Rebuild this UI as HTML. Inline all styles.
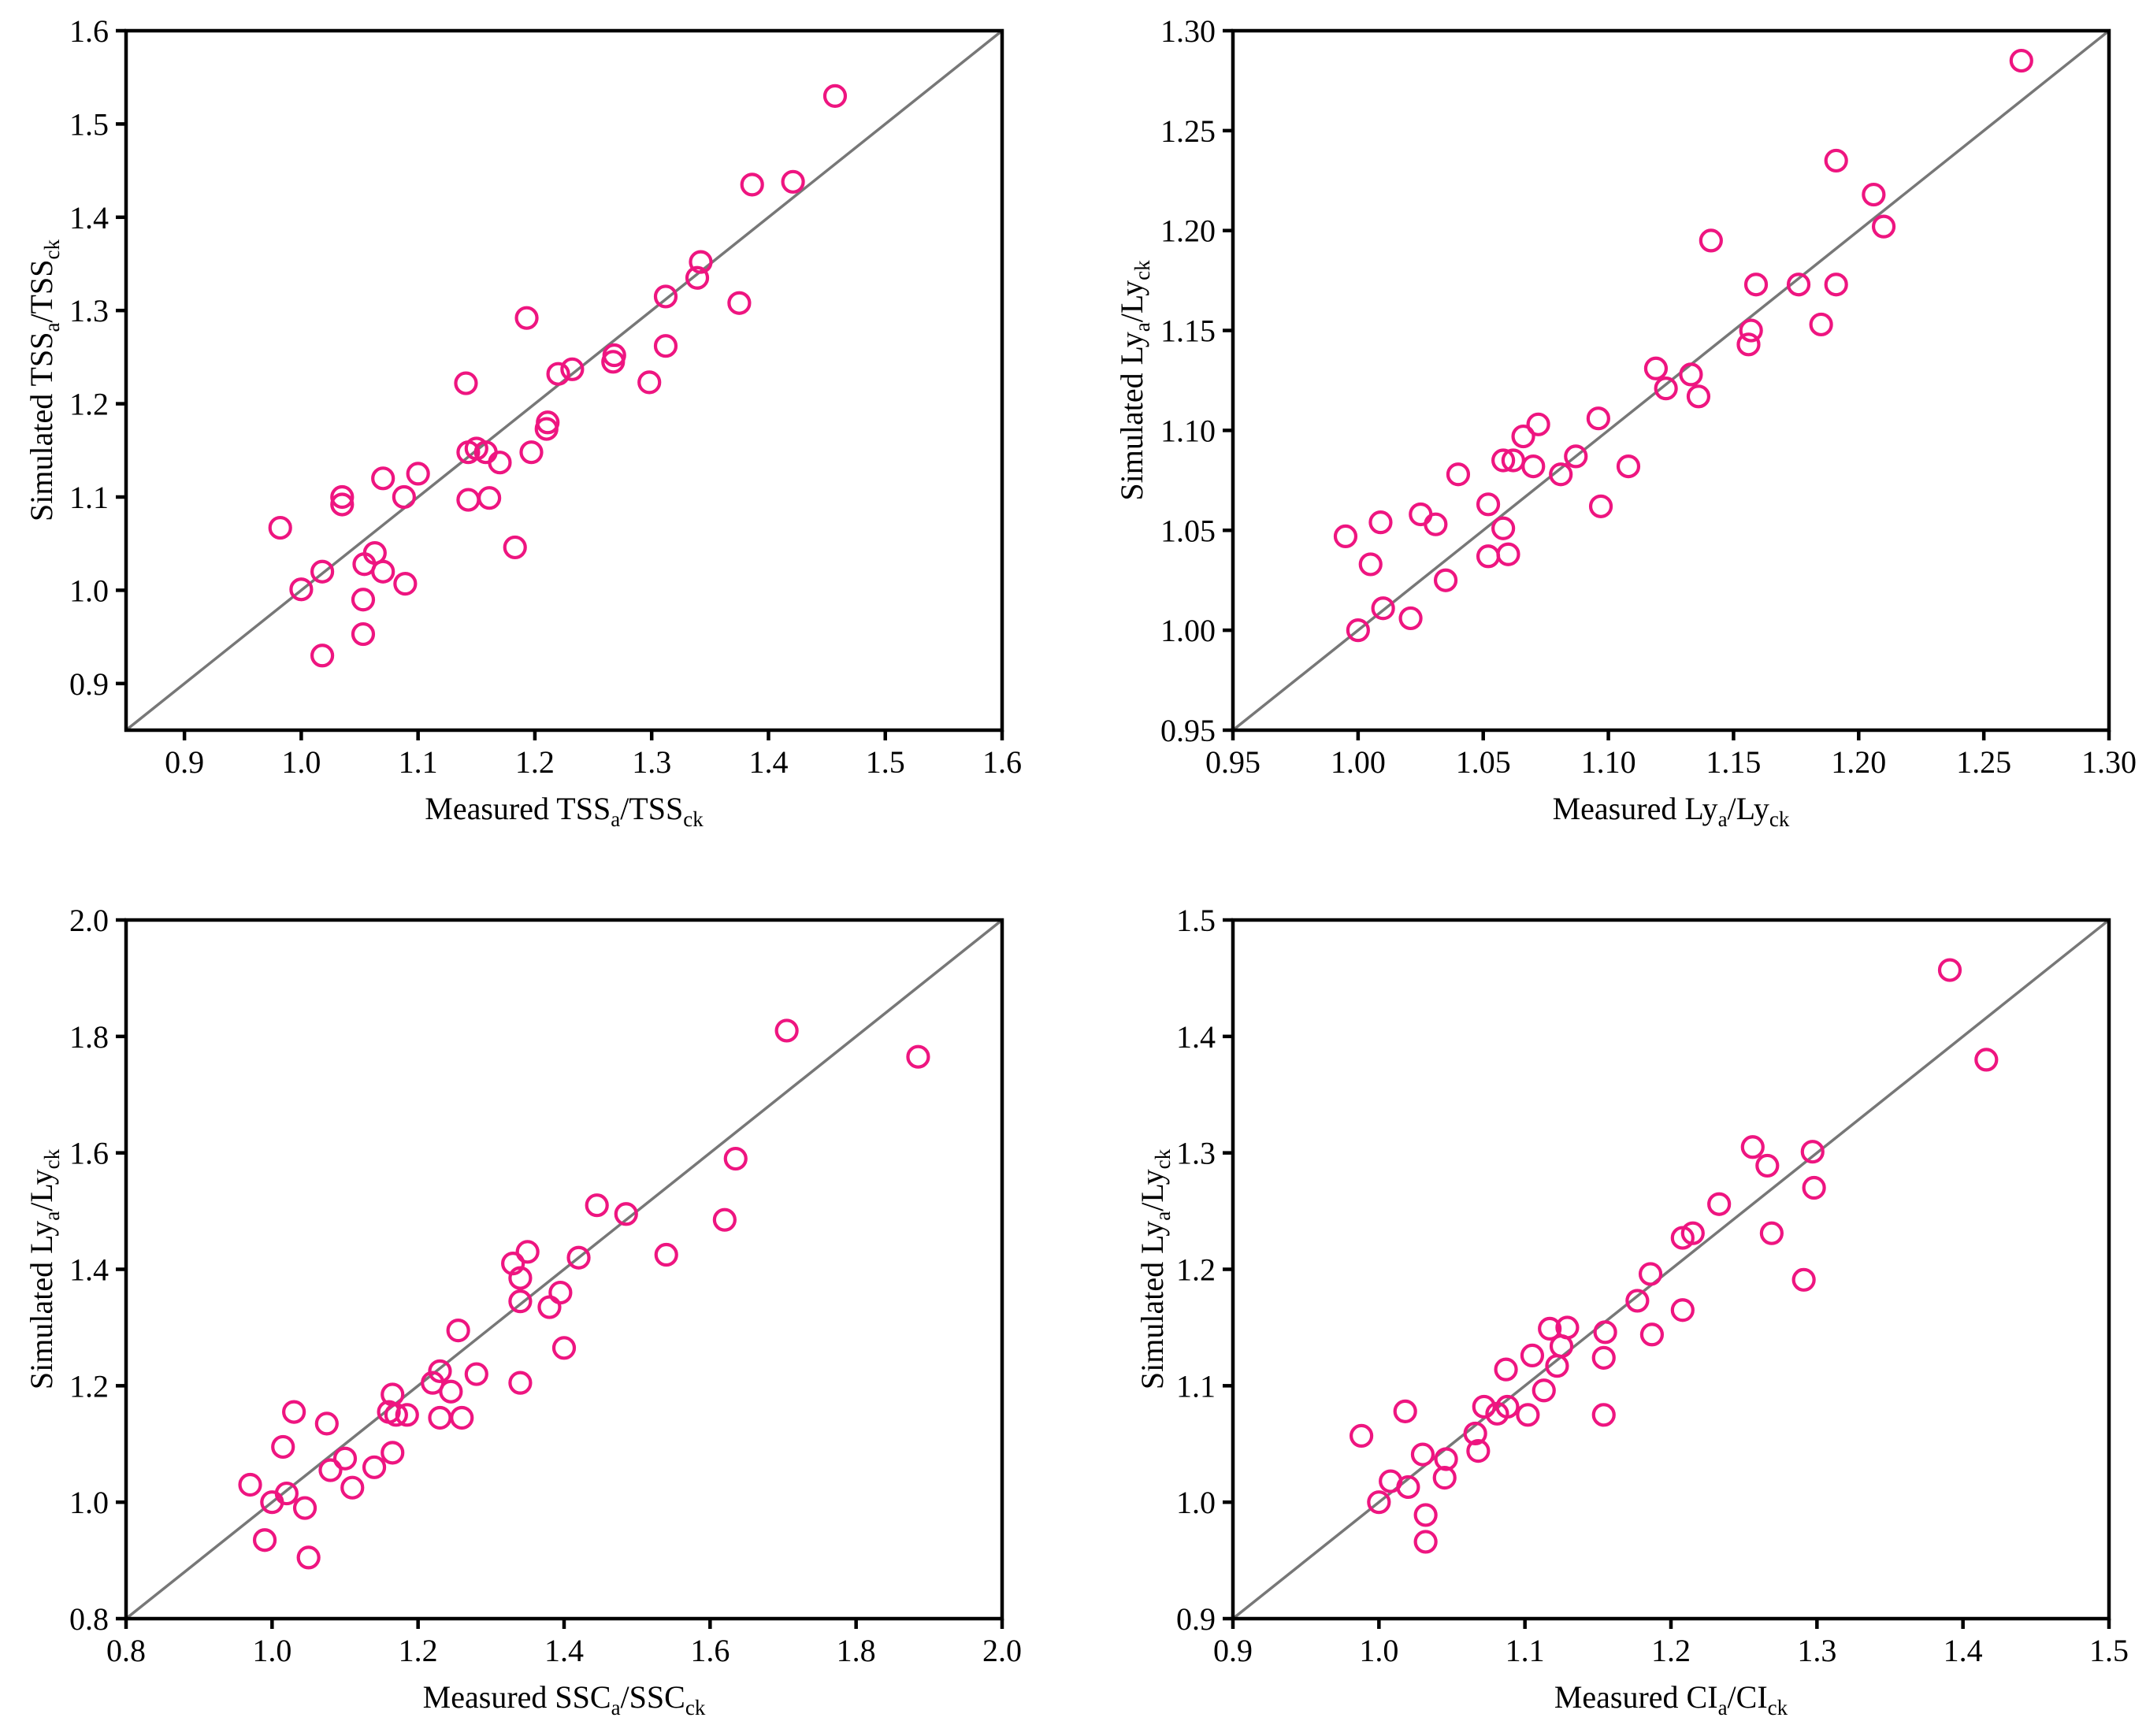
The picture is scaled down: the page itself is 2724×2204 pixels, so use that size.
<!DOCTYPE html>
<html><head><meta charset="utf-8">
<style>
html,body{margin:0;padding:0;background:#fff;}
svg{display:block;}
text{font-family:"Liberation Serif","Times New Roman",serif;fill:#000;}
</style></head>
<body>
<svg id="fig" width="2724" height="2204" viewBox="0 0 2724 2204" xmlns="http://www.w3.org/2000/svg"></svg>
<script>
// Panel 1: TSS
const p1X = [1.457,1.386,1.421,1.342,1.339,1.312,1.375,1.312,1.298,1.268,1.267,1.232,1.22,1.193,1.141,1.211,1.21,1.197,1.17,1.158,1.15,1.143,1.143,1.161,1.183,1.1,1.07,1.088,1.035,1.035,0.982,1.018,1.0,1.054,1.063,1.07,1.089,1.053,1.053,1.018];
const p1Y = [1.53,1.435,1.438,1.352,1.335,1.315,1.308,1.262,1.223,1.252,1.245,1.237,1.232,1.292,1.222,1.18,1.173,1.148,1.137,1.148,1.152,1.148,1.097,1.099,1.046,1.125,1.12,1.1,1.092,1.1,1.067,1.02,1.001,1.028,1.04,1.02,1.007,0.99,0.953,0.93];
const p1Ticks = ["0.9","1.0","1.1","1.2","1.3","1.4","1.5","1.6"];
// Panel 2: Ly
const p2X = [1.265,1.191,1.206,1.21,1.141,1.159,1.176,1.191,1.185,1.157,1.156,1.119,1.133,1.123,1.136,1.096,1.072,1.066,1.058,1.062,1.07,1.087,1.081,1.108,1.04,1.097,1.052,1.025,1.009,1.031,1.058,0.995,1.052,1.06,1.005,1.035,1.01,1.021,1.0];
const p2Y = [1.285,1.235,1.218,1.202,1.195,1.173,1.173,1.173,1.153,1.15,1.143,1.131,1.128,1.121,1.117,1.106,1.103,1.097,1.085,1.085,1.082,1.087,1.078,1.082,1.078,1.062,1.063,1.058,1.054,1.053,1.051,1.047,1.037,1.038,1.033,1.025,1.011,1.006,1.0];
const p2Ticks = ["0.95","1.00","1.05","1.10","1.15","1.20","1.25","1.30"];
// Panel 3: SSC
const p3X = [1.705,1.885,1.635,1.62,1.485,1.445,1.54,1.42,1.35,1.33,1.34,1.395,1.34,1.38,1.40,1.255,1.28,1.23,1.22,1.245,1.34,1.165,1.16,1.17,1.185,1.23,1.26,1.03,1.075,1.015,1.10,1.165,1.14,1.08,1.11,0.97,1.02,1.0,1.045,0.99,1.05];
const p3Y = [1.81,1.765,1.59,1.485,1.495,1.51,1.425,1.42,1.43,1.41,1.385,1.36,1.345,1.335,1.265,1.295,1.22,1.225,1.205,1.19,1.205,1.185,1.155,1.15,1.15,1.145,1.145,1.155,1.135,1.095,1.075,1.085,1.06,1.055,1.025,1.03,1.015,1.0,0.99,0.935,0.905];
const p3Ticks = ["0.8","1.0","1.2","1.4","1.6","1.8","2.0"];
// Panel 4: CI
const p4X = [1.391,1.416,1.256,1.297,1.266,1.298,1.233,1.208,1.215,1.269,1.291,1.186,1.177,1.208,1.187,1.155,1.154,1.154,1.117,1.129,1.125,1.122,1.105,1.087,1.113,1.072,1.088,1.081,1.102,1.066,1.068,1.018,0.988,1.030,1.046,1.045,1.008,1.020,1.0,1.032,1.032];
const p4Y = [1.457,1.380,1.305,1.301,1.289,1.270,1.256,1.227,1.231,1.231,1.191,1.196,1.173,1.165,1.144,1.146,1.124,1.075,1.149,1.150,1.134,1.117,1.126,1.114,1.096,1.082,1.082,1.076,1.075,1.059,1.044,1.078,1.057,1.041,1.037,1.021,1.018,1.013,1.0,0.989,0.966];
const p4Ticks = ["0.9","1.0","1.1","1.2","1.3","1.4","1.5"];

const NS = "http://www.w3.org/2000/svg";
const fig = document.getElementById('fig');
function mk(tag, attrs, parent){
  const e = document.createElementNS(NS, tag);
  for (const k in attrs) e.setAttribute(k, attrs[k]);
  (parent||fig).appendChild(e);
  return e;
}
function title(parent, x, y, rot, parts, name){
  const t = mk('text', {x:x, y:y, 'font-size':40, 'text-anchor':'middle', transform: rot ? `rotate(-90 ${x} ${y})` : ''}, parent);
  
  
  parts.forEach(p=>{
    const s = mk('tspan', {}, t);
    if (p[1]) { s.setAttribute('font-size', 27); s.setAttribute('dy', 9); }
    else if (p[2]) { s.setAttribute('dy', -9); }
    s.textContent = p[0];
  });
}
function panel(o){
  const g = mk('g', {});
  
  
  const L=o.L, R=o.R, T=o.T, B=o.B;
  const sx = v => L + (v - o.min)/(o.max - o.min)*(R-L);
  const sy = v => B - (v - o.min)/(o.max - o.min)*(B-T);
  const d = mk('line', {x1:sx(o.min), y1:sy(o.min), x2:sx(o.max), y2:sy(o.max), stroke:'#777', 'stroke-width':3.5}, g);
  
  
  const f = mk('rect', {x:L, y:T, width:R-L, height:B-T, fill:'none', stroke:'#000', 'stroke-width':4.5}, g);
  
  
  o.ticks.forEach(lab=>{
    const v = parseFloat(lab);
    const x = sx(v), y = sy(v);
    const tx = mk('line', {x1:x, y1:B, x2:x, y2:B+13, stroke:'#000', 'stroke-width':4.5}, g);
    
    
    const lx = mk('text', {x:x, y:B+54, 'font-size':40, 'text-anchor':'middle'}, g);
    
    
    lx.textContent = lab;
    const ty = mk('line', {x1:L-13, y1:y, x2:L, y2:y, stroke:'#000', 'stroke-width':4.5}, g);
    
    
    const ly = mk('text', {x:L-22, y:y+14, 'font-size':40, 'text-anchor':'end'}, g);
    
    
    ly.textContent = lab;
  });
  o.xs.forEach((xv,i)=>{
    const c = mk('circle', {cx:sx(xv), cy:sy(o.ys[i]), r:13, fill:'none', stroke:'#ee1580', 'stroke-width':4.2}, g);
    
    
  });
  title(g, (L+R)/2, o.xtY, false, o.xt, 'x-axis-title');
  title(g, o.ytX, (T+B)/2, true, o.yt, 'y-axis-title');
}
panel({name:'tss-panel', L:160, R:1272, T:39, B:927, min:0.85, max:1.6, ticks:p1Ticks, xs:p1X, ys:p1Y,
  xtY:1040, ytX:66,
  xt:[["Measured TSS"],["a",1],["/TSS",0,1],["ck",1]], yt:[["Simulated TSS"],["a",1],["/TSS",0,1],["ck",1]]});
panel({name:'yield-panel', L:1565, R:2677, T:39, B:927, min:0.95, max:1.30, ticks:p2Ticks, xs:p2X, ys:p2Y,
  xtY:1040, ytX:1450,
  xt:[["Measured Ly"],["a",1],["/Ly",0,1],["ck",1]], yt:[["Simulated Ly"],["a",1],["/Ly",0,1],["ck",1]]});
panel({name:'ssc-panel', L:160, R:1272, T:1168, B:2055, min:0.8, max:2.0, ticks:p3Ticks, xs:p3X, ys:p3Y,
  xtY:2168, ytX:66,
  xt:[["Measured SSC"],["a",1],["/SSC",0,1],["ck",1]], yt:[["Simulated Ly"],["a",1],["/Ly",0,1],["ck",1]]});
panel({name:'ci-panel', L:1565, R:2677, T:1168, B:2055, min:0.9, max:1.5, ticks:p4Ticks, xs:p4X, ys:p4Y,
  xtY:2168, ytX:1476,
  xt:[["Measured CI"],["a",1],["/CI",0,1],["ck",1]], yt:[["Simulated Ly"],["a",1],["/Ly",0,1],["ck",1]]});
</script>
</body></html>
